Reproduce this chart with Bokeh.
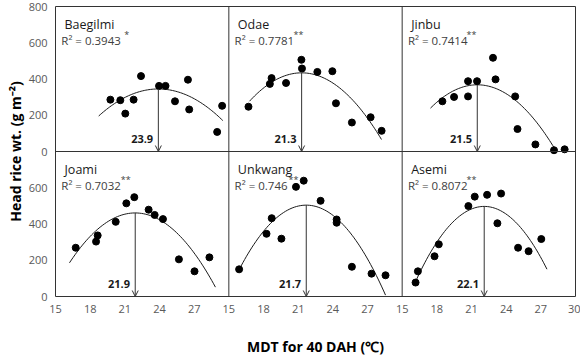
import numpy as np
from bokeh.plotting import figure
from bokeh.models import Range1d, FixedTicker, Span, Arrow, OpenHead
from bokeh.embed import file_html
from bokeh.resources import INLINE
from bokeh.core.properties import value

# ---------------- data ----------------
cultivars = ["Baegilmi", "Odae", "Jinbu", "Joami", "Unkwang", "Asemi"]
r2_values = ["0.3943", "0.7781", "0.7414", "0.7032", "0.746", "0.8072"]
significance = ["*", "**", "**", "**", "**", "**"]

# quadratic fit: y = peak_wt + curvature * (x - opt_temp)^2
opt_temp = [23.9, 21.3, 21.5, 21.9, 21.7, 22.1]
opt_labels = ["23.9", "21.3", "21.5", "21.9", "21.7", "22.1"]
peak_wt = [345, 434, 368, 461, 504, 497]
curvature = [-5.6, -7.7, -7.85, -8.5, -10.55, -11.75]
fit_start = [18.74, 16.79, 17.45, 16.21, 15.89, 16.24]
fit_end = [29.48, 28.21, 28.16, 28.84, 28.56, 27.53]

baegilmi_x = [19.75, 20.61, 21.04, 21.76, 22.40, 23.96, 24.52, 25.34, 26.46, 26.57, 28.99, 29.42]
baegilmi_y = [286, 283, 209, 286, 416, 362, 362, 277, 396, 232, 108, 252]
odae_x = [16.70, 18.55, 18.70, 19.95, 21.28, 21.33, 22.66, 23.96, 24.27, 25.65, 27.27, 28.22]
odae_y = [247, 373, 405, 378, 506, 458, 439, 443, 266, 160, 189, 114]
jinbu_x = [18.48, 19.49, 20.70, 20.70, 21.48, 22.86, 23.08, 24.78, 24.98, 26.53, 28.14, 29.06]
jinbu_y = [277, 301, 304, 388, 388, 517, 398, 304, 124, 39, 7, 12]
joami_x = [16.75, 18.51, 18.65, 20.21, 21.13, 21.82, 23.06, 23.58, 24.30, 25.68, 27.03, 28.32]
joami_y = [269, 303, 337, 412, 514, 548, 479, 450, 427, 205, 139, 216]
unkwang_x = [15.89, 18.26, 18.71, 19.55, 20.81, 21.48, 22.94, 24.33, 24.33, 25.65, 27.35, 28.56]
unkwang_y = [150, 346, 432, 319, 605, 639, 528, 425, 407, 164, 126, 117]
asemi_x = [16.16, 16.36, 17.80, 18.17, 20.73, 21.28, 22.35, 23.56, 23.24, 25.03, 25.94, 27.04]
asemi_y = [77, 139, 222, 288, 499, 551, 561, 568, 404, 269, 250, 317]

x_tick_labels = ["15", "18", "21", "24", "27",
                 "15", "18", "21", "24", "27",
                 "15", "18", "21", "24", "27", "30"]
y_tick_labels = ["0", "200", "400", "600", "0", "200", "400", "600", "800"]

x_label = "MDT for 40 DAH (℃)"
y_label = "Head rice wt. (g m⁻²)"

panel_x = [baegilmi_x, odae_x, jinbu_x, joami_x, unkwang_x, asemi_x]
panel_y = [baegilmi_y, odae_y, jinbu_y, joami_y, unkwang_y, asemi_y]

# ---------------- figure ----------------
FONT = value("Open Sans")
PX_PER_UNIT = 520 / 45.0

p = figure(width=580, height=358, x_range=Range1d(15, 60), y_range=Range1d(0, 1600),
           output_backend="svg", toolbar_location=None,
           min_border_left=55, min_border_right=5, min_border_top=6, min_border_bottom=56)
p.extra_x_ranges = {"col0": Range1d(15, 60), "col1": Range1d(0, 45), "col2": Range1d(-15, 30)}
p.extra_y_ranges = {"top": Range1d(-800, 800)}

p.xgrid.visible = False
p.ygrid.visible = False
p.outline_line_color = "#333333"
p.outline_line_width = 1
p.background_fill_color = "white"
p.border_fill_color = "white"

x_ticks = [15 + 3 * k for k in range(len(x_tick_labels))]
y_ticks = [200 * k for k in range(len(y_tick_labels))]
p.xaxis.ticker = FixedTicker(ticks=x_ticks)
p.xaxis.major_label_overrides = {t: lab for t, lab in zip(x_ticks, x_tick_labels)}
p.yaxis.ticker = FixedTicker(ticks=y_ticks)
p.yaxis.major_label_overrides = {t: lab for t, lab in zip(y_ticks, y_tick_labels)}

for ax in (p.xaxis[0], p.yaxis[0]):
    ax.axis_line_color = None
    ax.major_tick_line_color = None
    ax.minor_tick_line_color = None
    ax.major_tick_out = 0
    ax.major_tick_in = 0
    ax.major_label_text_font = "Open Sans"
    ax.major_label_text_font_size = "11px"
    ax.major_label_text_color = "#595959"
    ax.axis_label_text_font = "Open Sans"
    ax.axis_label_text_font_size = "14px"
    ax.axis_label_text_font_style = "bold"
    ax.axis_label_text_color = "black"

p.yaxis.major_label_standoff = 8
p.xaxis.major_label_standoff = 8
p.xaxis.axis_label = x_label
p.xaxis.axis_label_standoff = 21
p.yaxis.axis_label = y_label
p.yaxis.axis_label_standoff = 1

# panel dividers
for loc in (30, 45):
    p.add_layout(Span(location=loc, dimension="height", line_color="#333333", line_width=1))
p.add_layout(Span(location=800, dimension="width", line_color="#333333", line_width=1))

star_offset_px = [63, 59, 58.5, 59.5, 54, 58.5]

for i in range(6):
    row, col = divmod(i, 3)
    xr = f"col{col}"
    yr = "top" if row == 0 else "default"

    xx = np.linspace(fit_start[i], fit_end[i], 80)
    yy = peak_wt[i] + curvature[i] * (xx - opt_temp[i]) ** 2
    p.line(xx, yy, line_color="#1a1a1a", line_width=1, x_range_name=xr, y_range_name=yr)

    p.scatter(panel_x[i], panel_y[i], size=7, fill_color="black", line_color="black",
              x_range_name=xr, y_range_name=yr)

    p.add_layout(Arrow(end=OpenHead(size=6, line_color="#333333", line_width=1),
                       x_start=opt_temp[i], y_start=peak_wt[i], x_end=opt_temp[i], y_end=0,
                       line_color="#333333", line_width=1,
                       x_range_name=xr, y_range_name=yr))

    p.text(x=[opt_temp[i] - 0.45], y=[70], text=[opt_labels[i]], text_align="right",
           text_baseline="middle", text_font=FONT, text_font_size="11px",
           text_font_style="bold", text_color="#1a1a1a", x_range_name=xr, y_range_name=yr)

    p.text(x=[15.78], y=[703], text=[cultivars[i]], text_align="left",
           text_baseline="middle", text_font=FONT, text_font_size="12.5px",
           text_color="#1a1a1a", x_range_name=xr, y_range_name=yr)

    p.text(x=[15.5], y=[615], text=["R²  =  " + r2_values[i]], text_align="left",
           text_baseline="middle", text_font=FONT, text_font_size="11.5px",
           text_color="#404040", x_range_name=xr, y_range_name=yr)

    p.text(x=[15.5 + star_offset_px[i] / PX_PER_UNIT], y=[646], text=[significance[i]],
           text_align="left", text_baseline="middle", text_font=FONT,
           text_font_size="9px", text_color="#404040", x_range_name=xr, y_range_name=yr)

open("out.html", "w").write(file_html(p, INLINE))
